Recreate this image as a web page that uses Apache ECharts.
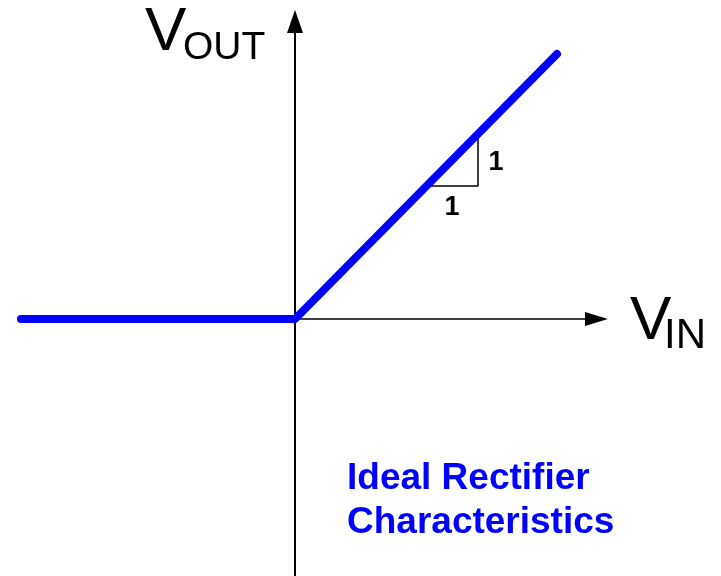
<!DOCTYPE html>
<html>
<head>
<meta charset="utf-8">
<script src="https://cdn.jsdelivr.net/npm/echarts@6/dist/echarts.min.js"></script>
<style>
  html, body { margin: 0; padding: 0; background: #fff; }
  #chart { width: 721px; height: 576px; }
</style>
</head>
<body>
<div id="chart"></div>
<script>
// transfer curve of the ideal rectifier (V_IN, V_OUT)
let curve_vin = [-2.74, 0, 2.62];
let curve_vout = [0, 0, 2.65];

// slope marker (run / rise triangle)
let slope_x = [1.29, 1.83, 1.83];
let slope_y = [1.33, 1.33, 1.87];

let caption_lines = ["Ideal Rectifier", "Characteristics"];

const font = "Liberation Sans, Arial, sans-serif";

let zip = (a, b) => a.map((v, i) => [v, b[i]]);

let chart = echarts.init(document.getElementById("chart"));

let hidden_axis = {
    show: false
};
let axis_line = function (size, w) {
    return {
        show: true,
        onZero: true,
        symbol: ["none", "triangle"],
        symbolSize: size,
        lineStyle: { color: "#000", width: w }
    };
};

let opt = {
    backgroundColor: "#fff",
    animation: false,
    grid: [
        { left: 0, top: 0, width: 721, height: 576 },
        { left: 295, top: 21.5, width: 301.5, height: 554.5 }
    ],
    xAxis: [
        Object.assign({ gridIndex: 0, type: "value", min: -2.95, max: 4.26 }, hidden_axis),
        {
            gridIndex: 1, type: "value", min: 0, max: 1,
            axisLine: axis_line([14, 23], 1.6),
            axisTick: { show: false }, axisLabel: { show: false }, splitLine: { show: false }
        }
    ],
    yAxis: [
        Object.assign({ gridIndex: 0, type: "value", min: -2.57, max: 3.19 }, hidden_axis),
        {
            gridIndex: 1, type: "value", min: -257, max: 297.5,
            axisLine: axis_line([16, 23], 2),
            axisTick: { show: false }, axisLabel: { show: false }, splitLine: { show: false }
        }
    ],
    series: [
        {
            type: "line",
            xAxisIndex: 0, yAxisIndex: 0,
            data: zip(slope_x, slope_y),
            symbol: "none",
            lineStyle: { color: "#000", width: 1.5 },
            z: 1
        },
        {
            type: "line",
            xAxisIndex: 0, yAxisIndex: 0,
            data: zip(curve_vin, curve_vout),
            symbol: "none",
            clip: false,
            lineStyle: { color: "#0000ff", width: 8, cap: "round", join: "round" },
            z: 5
        }
    ],
    graphic: [
        // axis names
        { type: "text", style: { x: 145, y: 32.5, text: "V", font: "62px " + font, fill: "#000", textVerticalAlign: "middle" } },
        { type: "text", style: { x: 183, y: 48, text: "OUT", font: "39px " + font, fill: "#000", textVerticalAlign: "middle" } },
        { type: "text", style: { x: 630, y: 321.5, text: "V", font: "62px " + font, fill: "#000", textVerticalAlign: "middle" } },
        { type: "text", style: { x: 664, y: 336, text: "IN", font: "42px " + font, fill: "#000", textVerticalAlign: "middle" } },
        // slope labels
        { type: "text", style: { x: 496, y: 163, text: "1", font: "bold 27px " + font, fill: "#000", textAlign: "center", textVerticalAlign: "middle" } },
        { type: "text", style: { x: 452, y: 208, text: "1", font: "bold 27px " + font, fill: "#000", textAlign: "center", textVerticalAlign: "middle" } },
        // caption
        { type: "text", style: { x: 347, y: 478.5, text: caption_lines[0], font: "bold 37px " + font, fill: "#0000ff", textVerticalAlign: "middle" } },
        { type: "text", style: { x: 347, y: 522.5, text: caption_lines[1], font: "bold 37px " + font, fill: "#0000ff", textVerticalAlign: "middle" } }
    ]
};

chart.setOption(opt);
</script>
</body>
</html>
